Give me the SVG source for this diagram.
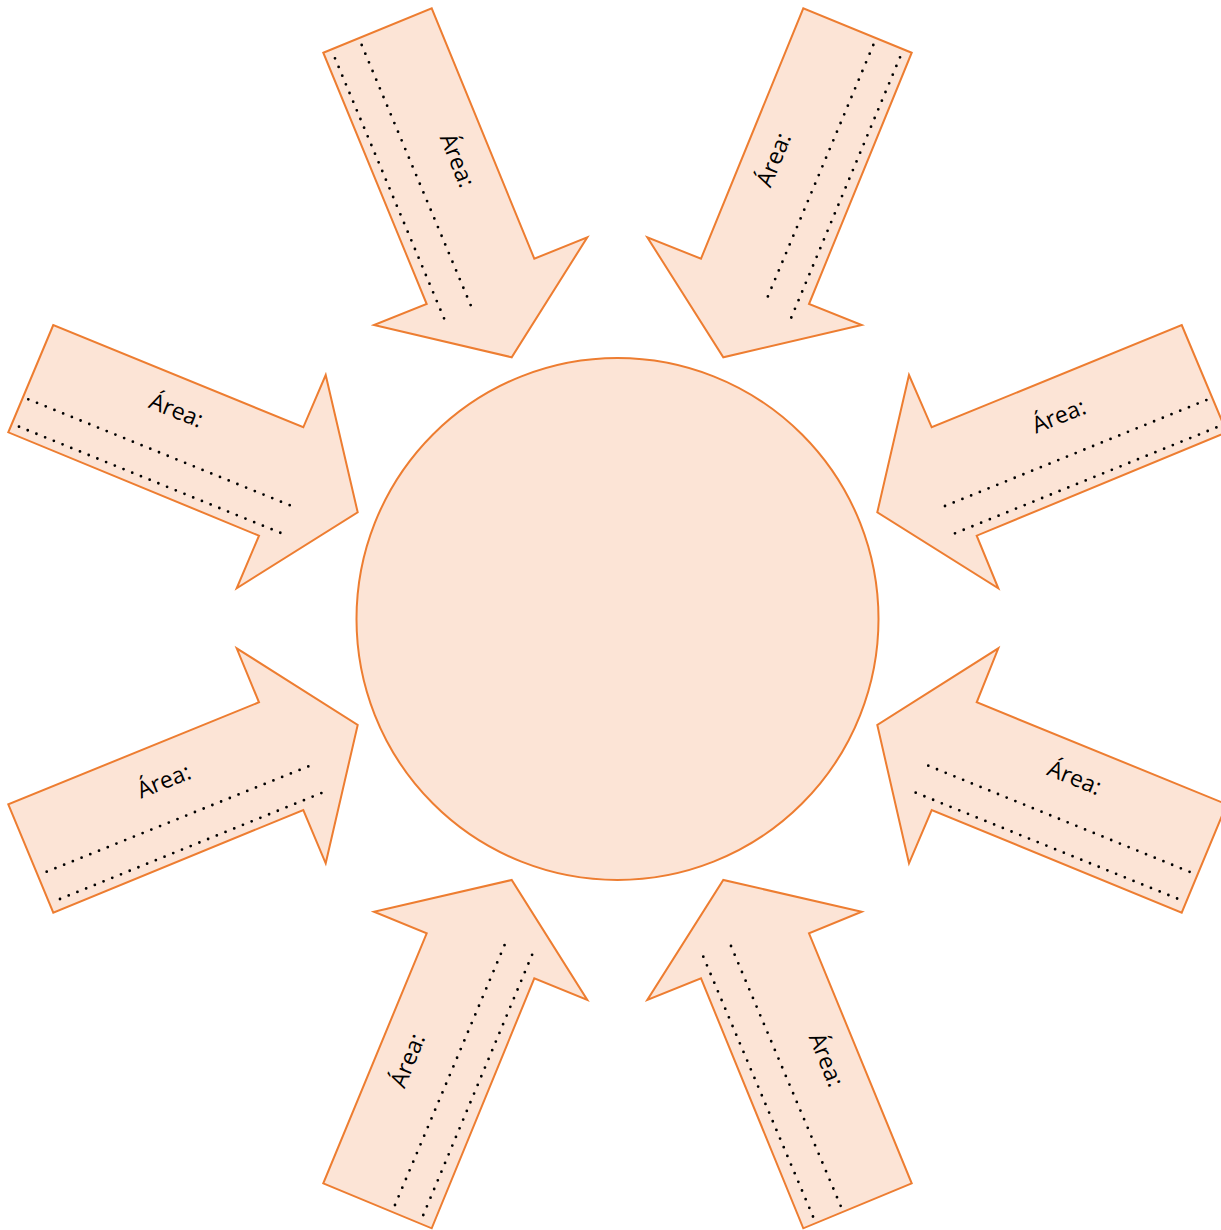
<svg xmlns="http://www.w3.org/2000/svg" width="1221" height="1230" viewBox="0 0 1221 1230">
<style>
.shape{fill:#FCE4D6;stroke:#ED7D31;stroke-width:2;stroke-linejoin:miter}
.dots{fill:none;stroke:#000;stroke-width:2.8;stroke-linecap:round;stroke-dasharray:0 9.4}
.lbl{font-family:"Open Sans","Liberation Sans",sans-serif;font-size:23px;fill:#000;text-anchor:middle;dominant-baseline:central}
</style>
<rect width="1221" height="1230" fill="#fff"/>
<g id="center">
<circle class="shape" cx="617.5" cy="619" r="261"/>
</g>
<g id="arrow-top-left">
<polygon class="shape" points="323.3,52.7 431.7,8.3 534.3,258.7 587.3,237.3 511.7,357.3 374,325 426.7,304"/>
<line class="dots" x1="335" y1="58.3" x2="444.3" y2="319"/>
<line class="dots" x1="361.7" y1="45" x2="471" y2="306"/>
<text class="lbl" transform="translate(458.3,160) rotate(67.9)">Área:</text>
</g>
<g id="arrow-top-right">
<polygon class="shape" points="911.7,52.7 803.3,8.3 701,258.7 647.3,237.3 723.3,357.3 861.7,325 809,304"/>
<line class="dots" x1="873.3" y1="45" x2="764.3" y2="305"/>
<line class="dots" x1="900" y1="57.3" x2="791" y2="318.3"/>
<text class="lbl" transform="translate(772.7,159.3) rotate(-67.9)">Área:</text>
</g>
<g id="arrow-left-upper">
<polygon class="shape" points="53.3,325 8.3,432.3 259,535.7 236.7,588.3 357.7,512.3 325.7,375 303.3,427.3"/>
<line class="dots" x1="28.3" y1="399.3" x2="291.7" y2="506"/>
<line class="dots" x1="19" y1="426.7" x2="281.7" y2="533.3"/>
<text class="lbl" transform="translate(176.7,409.3) rotate(22.1)">Área:</text>
</g>
<g id="arrow-right-upper">
<polygon class="shape" points="1181.7,325 1226.7,432.3 976.7,535.7 998.3,588.3 877.3,512.3 909,375 931.7,427.3"/>
<line class="dots" x1="945" y1="506" x2="1208.3" y2="399.3"/>
<line class="dots" x1="955" y1="533.3" x2="1218.3" y2="426.7"/>
<text class="lbl" transform="translate(1058.3,415) rotate(-22.1)">Área:</text>
</g>
<g id="arrow-left-lower">
<polygon class="shape" points="8.3,804.3 53.3,912.7 303.3,810 325.7,863.3 357.7,725 236.7,648.3 259,702.3"/>
<line class="dots" x1="46.7" y1="871.7" x2="310" y2="765.7"/>
<line class="dots" x1="60" y1="899" x2="322.3" y2="792.7"/>
<text class="lbl" transform="translate(163.3,780) rotate(-22.1)">Área:</text>
</g>
<g id="arrow-right-lower">
<polygon class="shape" points="1226.7,804.3 1181.7,912.7 931.7,810 909,863.3 877.3,725 998.3,648.3 976.7,702.3"/>
<line class="dots" x1="928.3" y1="765.7" x2="1190.7" y2="872.3"/>
<line class="dots" x1="915.7" y1="792.7" x2="1178.3" y2="899"/>
<text class="lbl" transform="translate(1075,776.7) rotate(22.1)">Área:</text>
</g>
<g id="arrow-bottom-left">
<polygon class="shape" points="323.3,1183.3 431.7,1228.3 534.3,978.3 587.3,1000 511.7,880 374,911.7 426.7,933.3"/>
<line class="dots" x1="395" y1="1205" x2="505" y2="944"/>
<line class="dots" x1="423.3" y1="1215" x2="532.3" y2="954.3"/>
<text class="lbl" transform="translate(406.7,1060) rotate(-67.9)">Área:</text>
</g>
<g id="arrow-bottom-right">
<polygon class="shape" points="911.7,1183.3 803.3,1228.3 701,978.3 647.3,1000 723.3,880 861.7,911.7 809,933.3"/>
<line class="dots" x1="703.3" y1="956.7" x2="813.3" y2="1217.3"/>
<line class="dots" x1="731" y1="946" x2="841" y2="1206.7"/>
<text class="lbl" transform="translate(827.3,1059.3) rotate(67.9)">Área:</text>
</g>
</svg>
